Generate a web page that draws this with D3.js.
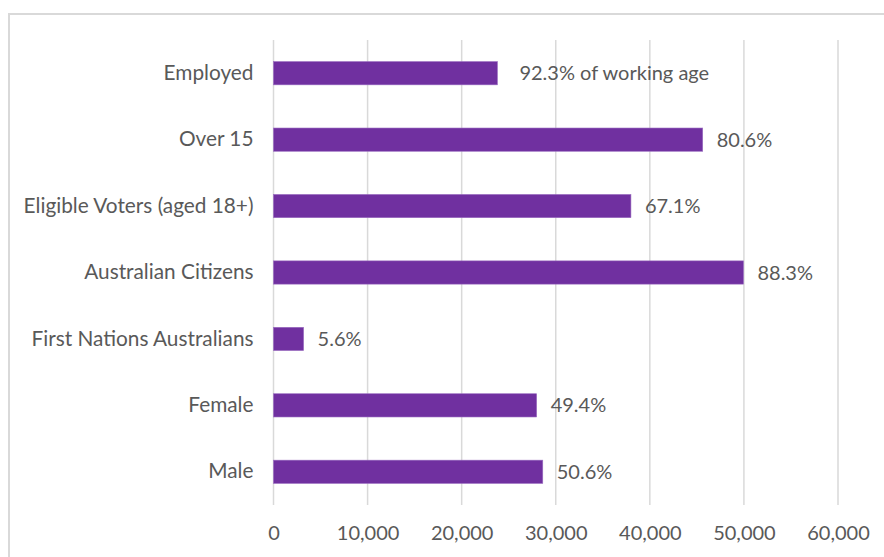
<!DOCTYPE html>
<html>
<head>
<meta charset="utf-8">
<script src="https://cdn.jsdelivr.net/npm/d3@7"></script>
<style>
  html, body { margin: 0; padding: 0; background: #fff; }
  svg { display: block; }
</style>
</head>
<body>
<svg id="chart" width="884" height="557"></svg>
<script>
// Population breakdown (persons)
const categories = ["Employed", "Over 15", "Eligible Voters (aged 18+)", "Australian Citizens",
                    "First Nations Australians", "Female", "Male"];
const values = [23800, 45620, 37990, 49950, 3200, 27970, 28620];
const valueLabels = ["92.3% of working age", "80.6%", "67.1%", "88.3%", "5.6%", "49.4%", "50.6%"];
const tickValues = [0, 10000, 20000, 30000, 40000, 50000, 60000];

const svg = d3.select("#chart");
const font = "Lato, 'Open Sans', sans-serif";
const fontSize = 20;
const textColor = "#595959";

// chart frame
svg.append("rect")
  .attr("x", 9).attr("y", 14)
  .attr("width", 900).attr("height", 600)
  .attr("fill", "#fff").attr("stroke", "#d9d9d9").attr("stroke-width", 2);

const plot = { left: 273.5, right: 838, top: 40, bottom: 505 };

const x = d3.scaleLinear().domain([0, 60000]).range([plot.left, plot.right]);
const y = d3.scaleBand().domain(categories).range([plot.top, plot.bottom]).paddingInner(0.65).paddingOuter(0.325);

// vertical gridlines
svg.append("g").selectAll("line")
  .data(tickValues).join("line")
  .attr("x1", d => x(d)).attr("x2", d => x(d))
  .attr("y1", plot.top).attr("y2", plot.bottom)
  .attr("stroke", "#d9d9d9").attr("stroke-width", 1.5);

// x-axis tick labels
const xAxis = d3.axisBottom(x).tickValues(tickValues).tickSize(0).tickPadding(0)
  .tickFormat(d3.format(","));
const gx = svg.append("g").attr("transform", `translate(0, ${plot.bottom})`).call(xAxis);
gx.select(".domain").remove();
gx.selectAll("text")
  .attr("font-family", font).attr("font-size", fontSize).attr("fill", textColor)
  .attr("dy", "0.35em").attr("y", 28);

// category labels
const yAxis = d3.axisLeft(y).tickSize(0).tickPadding(20);
const gy = svg.append("g").attr("transform", `translate(${plot.left}, 0)`).call(yAxis);
gy.select(".domain").remove();
gy.selectAll("text")
  .attr("font-family", font).attr("font-size", 20.8).attr("fill", textColor);

// bars
svg.append("g").selectAll("rect")
  .data(values).join("rect")
  .attr("x", x(0))
  .attr("y", (d, i) => y(categories[i]))
  .attr("width", d => x(d) - x(0))
  .attr("height", y.bandwidth())
  .attr("fill", "#7030a0")
  .attr("stroke", "#9a6cc0").attr("stroke-width", 0.6);

// value labels
svg.append("g").selectAll("text")
  .data(values).join("text")
  .attr("x", (d, i) => x(d) + (i === 0 ? 22 : 14))
  .attr("y", (d, i) => y(categories[i]) + y.bandwidth() / 2)
  .attr("dy", "0.35em")
  .attr("font-family", font).attr("font-size", fontSize).attr("fill", textColor)
  .text((d, i) => valueLabels[i]);
</script>
</body>
</html>
